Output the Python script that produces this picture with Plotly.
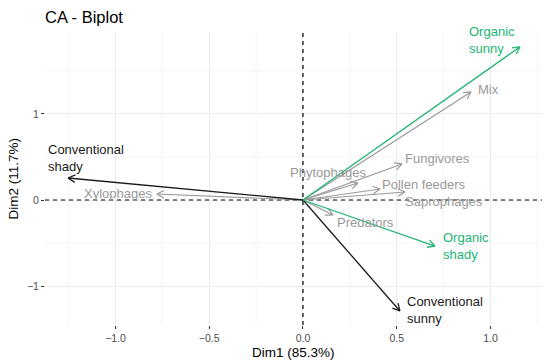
import math
import plotly.graph_objects as go

# ---- data ----
row_names = ["Phytophages", "Pollen feeders", "Saprophages", "Fungivores",
             "Predators", "Xylophages", "Mix"]
row_dim1 = [0.293, 0.411, 0.544, 0.528, 0.160, -0.779, 0.896]
row_dim2 = [0.198, 0.128, 0.093, 0.419, -0.174, 0.070, 1.256]

col_names = ["Conventional<br>shady", "Conventional<br>sunny", "Organic<br>sunny", "Organic<br>shady"]
col_dim1 = [-1.253, 0.517, 1.157, 0.704]
col_dim2 = [0.256, -1.290, 1.780, -0.535]
col_group = ["conventional", "conventional", "organic", "organic"]

x_ticks = [-1.0, -0.5, 0.0, 0.5, 1.0]
x_tick_labels = ["\u22121.0", "\u22120.5", "0.0", "0.5", "1.0"]
y_ticks = [-1, 0, 1]
y_tick_labels = ["\u22121", "0", "1"]

# ---- layout / style ----
W, H = 550, 364
M = dict(l=45, r=8, t=32, b=39)
XR = [-1.376, 1.275]
YR = [-1.453, 1.953]
px_x = (W - M["l"] - M["r"]) / (XR[1] - XR[0])
px_y = (H - M["t"] - M["b"]) / (YR[1] - YR[0])

GREY = "#999999"
GREEN = "#22b573"
BLACK = "#1a1a1a"
FONT = "Liberation Sans, Arial, sans-serif"

# label positions (data coords)
row_label_pos = {
    "Phytophages": (0.133, 0.314),
    "Pollen feeders": (0.645, 0.186),
    "Saprophages": (0.752, -0.012),
    "Fungivores": (0.715, 0.477),
    "Predators": (0.331, -0.267),
    "Xylophages": (-0.987, 0.081),
    "Mix": (0.987, 1.280),
}
col_label_pos = {
    "Conventional<br>shady": (-1.371, 0.483),
    "Conventional<br>sunny": (0.544, -1.279),
    "Organic<br>sunny": (0.877, 1.860),
    "Organic<br>shady": (0.735, -0.535),
}


def arrow_xy(xs, ys, head_px=8.0, ang=math.radians(28)):
    ox, oy = [], []
    for x, y in zip(xs, ys):
        ox += [0, x, None]
        oy += [0, y, None]
        dxp, dyp = x * px_x, y * px_y
        theta = math.atan2(dyp, dxp)
        for s in (1, -1):
            a = theta + math.pi + s * ang
            hx = x + head_px * math.cos(a) / px_x
            hy = y + head_px * math.sin(a) / px_y
            ox += [x, hx, None]
            oy += [y, hy, None]
    return ox, oy


fig = go.Figure()

# reference dashed lines
fig.add_trace(go.Scatter(x=[XR[0], XR[1]], y=[0, 0], mode="lines",
                         line=dict(color="black", width=1.2, dash="4px,4px"),
                         hoverinfo="skip", showlegend=False))
fig.add_trace(go.Scatter(x=[0, 0], y=[YR[0], YR[1]], mode="lines",
                         line=dict(color="black", width=1.2, dash="4px,4px"),
                         hoverinfo="skip", showlegend=False))

ax, ay = arrow_xy(row_dim1, row_dim2)
fig.add_trace(go.Scatter(x=ax, y=ay, mode="lines", line=dict(color=GREY, width=1.2),
                         hoverinfo="skip", showlegend=False))

for grp, colr in (("conventional", BLACK), ("organic", GREEN)):
    xs = [x for x, g in zip(col_dim1, col_group) if g == grp]
    ys = [y for y, g in zip(col_dim2, col_group) if g == grp]
    ax, ay = arrow_xy(xs, ys)
    fig.add_trace(go.Scatter(x=ax, y=ay, mode="lines", line=dict(color=colr, width=1.3),
                             hoverinfo="skip", showlegend=False))

for name in row_names:
    lx, ly = row_label_pos[name]
    fig.add_annotation(x=lx, y=ly, text=name, showarrow=False, xanchor="center", yanchor="middle",
                       font=dict(family=FONT, size=13, color=GREY))

for name, g in zip(col_names, col_group):
    lx, ly = col_label_pos[name]
    fig.add_annotation(x=lx, y=ly, text=name, showarrow=False, xanchor="left", yanchor="middle",
                       align="left",
                       font=dict(family=FONT, size=13, color=GREEN if g == "organic" else BLACK))

# axis titles
fig.add_annotation(xref="paper", yref="paper", x=0.5, y=-(352 - (H - M["b"])) / (H - M["t"] - M["b"]),
                   text="Dim1 (85.3%)", showarrow=False, xanchor="center", yanchor="middle",
                   font=dict(family=FONT, size=13.5, color="black"))
fig.add_annotation(xref="paper", yref="paper", x=-(M["l"] - 13) / (W - M["l"] - M["r"]), y=0.5,
                   text="Dim2 (11.7%)", showarrow=False, xanchor="center", yanchor="middle",
                   textangle=-90, font=dict(family=FONT, size=13.5, color="black"))

minor_x = [-1.25, -0.75, -0.25, 0.25, 0.75, 1.25]
minor_y = [-1.5, -0.5, 0.5, 1.5]
for v in minor_x:
    fig.add_shape(type="line", x0=v, x1=v, y0=YR[0], y1=YR[1], layer="below",
                  line=dict(color="#f2f2f2", width=0.8))
for v in minor_y:
    fig.add_shape(type="line", y0=v, y1=v, x0=XR[0], x1=XR[1], layer="below",
                  line=dict(color="#f2f2f2", width=0.8))

fig.update_layout(
    width=W, height=H, margin=M,
    paper_bgcolor="white", plot_bgcolor="white",
    title=dict(text="CA - Biplot", x=45 / W, xanchor="left", y=1 - 17 / H, yanchor="middle",
               font=dict(family=FONT, size=16.5, color="black")),
    xaxis=dict(range=XR, tickvals=x_ticks, ticktext=x_tick_labels, showgrid=True,
               gridcolor="#ebebeb", gridwidth=1.1, zeroline=False, showline=False,
               ticks="outside", ticklen=3, tickcolor="#333333", automargin=False,
               tickfont=dict(family=FONT, size=10.5, color="#4d4d4d")),
    yaxis=dict(range=YR, tickvals=y_ticks, ticktext=y_tick_labels, showgrid=True,
               gridcolor="#ebebeb", gridwidth=1.1, zeroline=False, showline=False,
               ticks="outside", ticklen=3, tickcolor="#333333", automargin=False,
               tickfont=dict(family=FONT, size=10.5, color="#4d4d4d")),
)

fig.write_html("out.html", config={"displayModeBar": False},
               post_script="document.body.style.margin='0';document.body.style.overflow='hidden';")
